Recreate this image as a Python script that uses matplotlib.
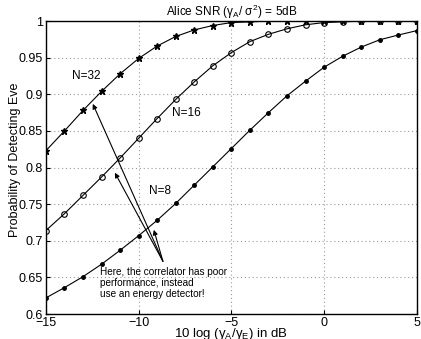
import numpy as np
import matplotlib
matplotlib.use("Agg")
import matplotlib.pyplot as plt

plt.rcParams['font.family'] = ['Liberation Sans', 'DejaVu Sans']
plt.rcParams['mathtext.fontset'] = 'custom'
plt.rcParams['mathtext.rm'] = 'Liberation Sans'
plt.rcParams['mathtext.it'] = 'Liberation Sans'

# ratio gamma_A/gamma_E in dB
snr_db = list(range(-15, 6))

# probability of detecting Eve
p_n32 = [0.823, 0.850, 0.878, 0.904, 0.928, 0.949, 0.966, 0.979, 0.988, 0.994,
         0.998, 0.999, 1.0, 1.0, 1.0, 1.0, 1.0, 1.0, 1.0, 1.0, 1.0]
p_n16 = [0.714, 0.737, 0.762, 0.787, 0.813, 0.840, 0.867, 0.893, 0.917, 0.939,
         0.957, 0.972, 0.982, 0.9895, 0.995, 0.998, 0.999, 1.0, 1.0, 1.0, 1.0]
p_n8 = [0.622, 0.636, 0.651, 0.668, 0.687, 0.707, 0.728, 0.751, 0.776, 0.801,
        0.826, 0.851, 0.875, 0.898, 0.918, 0.937, 0.952, 0.9645, 0.9745, 0.981, 0.987]

fig = plt.figure(figsize=(4.21, 3.39), dpi=100)
ax = fig.add_axes([0.109, 0.0737, 0.881, 0.864])

ax.plot(snr_db, p_n32, 'k-', marker='*', markersize=5, lw=0.8)
ax.plot(snr_db, p_n16, 'k-', marker='o', markersize=4, mfc='none', mew=0.8, lw=0.8)
ax.plot(snr_db, p_n8, 'k-', marker='.', markersize=5, lw=0.8)

ax.set_xlim(-15, 5)
ax.set_ylim(0.6, 1.0)
ax.set_xticks([-15, -10, -5, 0, 5])
ax.set_xticklabels(['\u221215', '\u221210', '\u22125', '0', '5'])
ax.set_yticks(np.arange(0.6, 1.001, 0.05))
ax.set_yticklabels(['0.6', '0.65', '0.7', '0.75', '0.8', '0.85', '0.9', '0.95', '1'])
ax.tick_params(labelsize=9, direction='in', length=3, pad=2)
ax.grid(True, linestyle=(0, (1, 2.5)), color='#999999', lw=0.8)
for s in ax.spines.values():
    s.set_linewidth(1.0)

ax.set_title(r'Alice SNR ($\gamma_A$/ $\sigma^2$) = 5dB', fontsize=8.5, pad=3)
ax.set_xlabel(r'10 log ($\gamma_A/\gamma_E$) in dB', fontsize=9.5, labelpad=-2)
ax.set_ylabel('Probability of Detecting Eve', fontsize=9)
ax.yaxis.set_label_coords(-0.068, 0.525)

ax.text(-12.81, 0.925, 'N=32', fontsize=8.5, ha='center', va='center')
ax.text(-7.40, 0.8745, 'N=16', fontsize=8.5, ha='center', va='center')
ax.text(-8.82, 0.7685, 'N=8', fontsize=8.5, ha='center', va='center')

ax.text(-12.1, 0.664, 'Here, the correlator has poor\nperformance, instead\nuse an energy detector!',
        fontsize=7.2, ha='left', va='top', linespacing=1.1)

tail = (-8.69, 0.672)
for head in [(-12.47, 0.887), (-11.28, 0.793), (-9.18, 0.715)]:
    ax.annotate('', xy=head, xytext=tail,
                arrowprops=dict(arrowstyle='-|>', color='k', lw=0.8,
                                mutation_scale=7, shrinkA=0, shrinkB=0))

fig.savefig('out.png', dpi=100)
